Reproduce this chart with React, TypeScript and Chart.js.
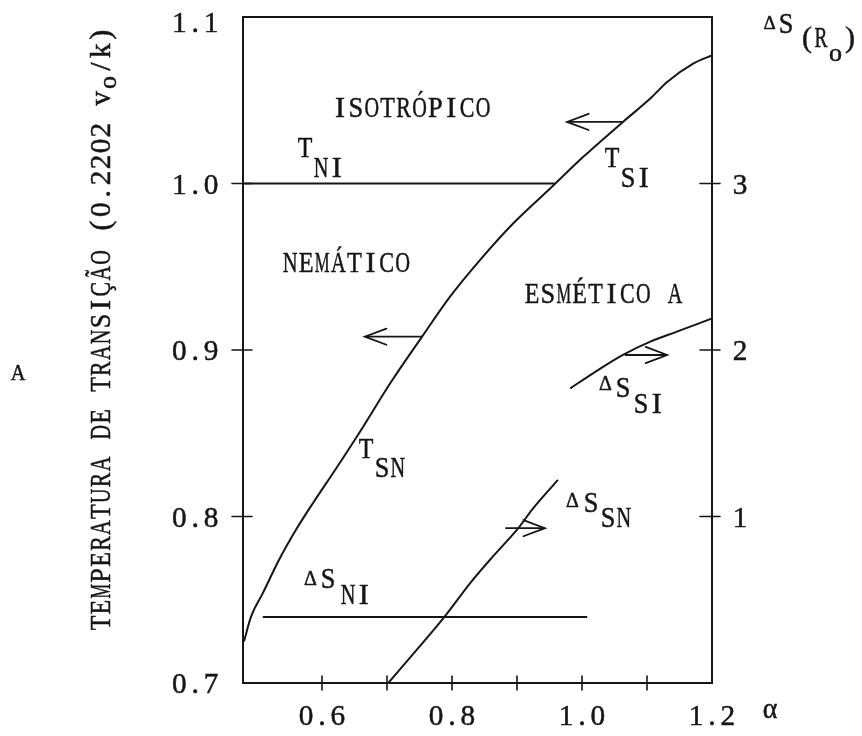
import React, { useEffect, useRef } from "react";
import { Chart, registerables } from "chart.js";

Chart.register(...registerables);

// ---------- data (α on x, reduced temperature T on left axis, ΔS on right axis) ----------
const X_MIN = 0.4785;
const X_MAX = 1.2;
const Y_MIN = 0.7;
const Y_MAX = 1.1;
const Y2_MIN = 0;
const Y2_MAX = 4;

// T_SN (lower part) continuing as T_SI (upper part)
const ALPHA_T_SN_SI = [0.48, 0.491, 0.509, 0.534, 0.56, 0.586, 0.622, 0.657, 0.705, 0.754, 0.797, 0.843, 0.894, 0.951, 1.002, 1.063, 1.105, 1.131, 1.171, 1.2];
const T_SN_SI = [0.725, 0.74, 0.754, 0.774, 0.792, 0.808, 0.829, 0.85, 0.88, 0.908, 0.932, 0.954, 0.976, 0.997, 1.016, 1.037, 1.051, 1.061, 1.072, 1.077];

// T_NI horizontal line
const ALPHA_T_NI = [0.4785, 0.958];
const T_NI = [1.0, 1.0];

// ΔS_SI (right axis)
const ALPHA_DS_SI = [0.982, 1.017, 1.063, 1.105, 1.146, 1.2];
const DS_SI = [1.77, 1.86, 1.97, 2.05, 2.11, 2.19];

// ΔS_SN (right axis)
const ALPHA_DS_SN = [0.702, 0.746, 0.789, 0.828, 0.863, 0.902, 0.923, 0.963];
const DS_SN = [0.0, 0.2, 0.4, 0.6, 0.76, 0.93, 1.04, 1.22];

// ΔS_NI (right axis)
const ALPHA_DS_NI = [0.509, 1.008];
const DS_NI = [0.396, 0.396];

// arrows telling which axis a curve belongs to (tail -> tip)
const ARROW_TSN_ALPHA = [0.754, 0.666];
const ARROW_TSN_T = [0.908, 0.908];
const ARROW_TSI_ALPHA = [1.063, 0.977];
const ARROW_TSI_T = [1.037, 1.037];
const ARROW_DSSI_ALPHA = [1.066, 1.131];
const ARROW_DSSI_DS = [1.97, 1.97];
const ARROW_DSSN_ALPHA = [0.882, 0.943];
const ARROW_DSSN_DS = [0.93, 0.93];

// ticks
const X_TICK_VALUES = [0.6, 0.7, 0.8, 0.9, 1.0, 1.1];
const X_LABEL_VALUES = [0.6, 0.8, 1.0, 1.2];
const X_LABELS = ["0.6", "0.8", "1.0", "1.2"];
const Y_TICK_VALUES = [0.8, 0.9, 1.0];
const Y_LABEL_VALUES = [0.7, 0.8, 0.9, 1.0, 1.1];
const Y_LABELS = ["0.7", "0.8", "0.9", "1.0", "1.1"];
const Y2_TICK_VALUES = [1, 2, 3];
const Y2_LABELS = ["1", "2", "3"];

const INK = "#161616";
const FONT = '"Liberation Serif", "DejaVu Serif", serif';
const ADV = 15.9;
const SIZE = 30;

function pts(xs: number[], ys: number[]) {
  return xs.map((x, i) => ({ x, y: ys[i] }));
}

// typewriter-like text: every character sits centred in a fixed cell
function typeText(ctx: CanvasRenderingContext2D, s: string, x: number, y: number, size = SIZE, adv = ADV) {
  ctx.font = `${size}px ${FONT}`;
  ctx.textAlign = "center";
  ctx.textBaseline = "alphabetic";
  ctx.lineWidth = 0.5;
  for (const ch of s) {
    if (ch !== " ") {
      const w = ctx.measureText(ch).width;
      const sx = Math.min(1, (adv * 0.92) / w);
      ctx.save();
      ctx.translate(x + adv / 2, y);
      ctx.scale(sx, 1);
      ctx.fillText(ch, 0, 0);
      ctx.strokeText(ch, 0, 0);
      ctx.restore();
    }
    x += adv;
  }
  return x;
}

const decor = {
  id: "decor",
  afterDatasetsDraw(chart: any) {
    const { ctx, chartArea: a, scales } = chart;
    const sx = scales.x, sy = scales.y, sy2 = scales.y2;
    ctx.save();
    ctx.strokeStyle = INK;
    ctx.fillStyle = INK;
    ctx.lineWidth = 2;
    ctx.lineCap = "round";
    ctx.strokeRect(a.left, a.top, a.right - a.left, a.bottom - a.top);

    // tick marks crossing the frame
    ctx.lineWidth = 1.6;
    ctx.beginPath();
    X_TICK_VALUES.forEach((v) => {
      const p = sx.getPixelForValue(v);
      ctx.moveTo(p, a.bottom - 7);
      ctx.lineTo(p, a.bottom + 7);
    });
    Y_TICK_VALUES.forEach((v) => {
      const p = sy.getPixelForValue(v);
      ctx.moveTo(a.left - 11, p);
      ctx.lineTo(a.left + 9, p);
    });
    Y2_TICK_VALUES.forEach((v) => {
      const p = sy2.getPixelForValue(v);
      ctx.moveTo(a.right - 12, p);
      ctx.lineTo(a.right + 8, p);
    });
    ctx.stroke();

    // arrowheads
    ctx.lineWidth = 1.8;
    chart.data.datasets.forEach((ds: any, i: number) => {
      if (!ds.arrow) return;
      const d = chart.getDatasetMeta(i).data;
      const p0 = d[d.length - 2], p1 = d[d.length - 1];
      const ang = Math.atan2(p1.y - p0.y, p1.x - p0.x);
      const L = 23, h = 0.36;
      ctx.beginPath();
      ctx.moveTo(p1.x - L * Math.cos(ang - h), p1.y - L * Math.sin(ang - h));
      ctx.lineTo(p1.x, p1.y);
      ctx.lineTo(p1.x - L * Math.cos(ang + h), p1.y - L * Math.sin(ang + h));
      ctx.stroke();
    });

    // tick labels
    X_LABEL_VALUES.forEach((v, i) => {
      const p = sx.getPixelForValue(v);
      const s = X_LABELS[i];
      typeText(ctx, s, p - (s.length * ADV) / 2, 725);
    });
    Y_LABEL_VALUES.forEach((v, i) => {
      const p = sy.getPixelForValue(v);
      const s = Y_LABELS[i];
      typeText(ctx, s, a.left - 24 - s.length * ADV, Math.max(p + 10, 32));
    });
    Y2_TICK_VALUES.forEach((v, i) => {
      const p = sy2.getPixelForValue(v);
      typeText(ctx, Y2_LABELS[i], a.right + 20, p + 10);
    });

    // region names
    typeText(ctx, "ISOTRÓPICO", 332, 117);
    typeText(ctx, "NEMÁTICO", 282, 272, SIZE, 16.1);
    typeText(ctx, "ESMÉTICO A", 524, 303);

    // curve labels
    typeText(ctx, "T", 297, 157);
    typeText(ctx, "NI", 313, 177);
    typeText(ctx, "T", 604, 167);
    typeText(ctx, "SI", 620, 187);
    typeText(ctx, "T", 358, 458);
    typeText(ctx, "SN", 374, 477);

    typeText(ctx, "Δ", 303, 585, 20, 15);
    typeText(ctx, "S", 320, 588);
    typeText(ctx, "NI", 340, 604);
    typeText(ctx, "Δ", 598, 390, 20, 15);
    typeText(ctx, "S", 615, 397);
    typeText(ctx, "SI", 633, 413);
    typeText(ctx, "Δ", 565, 507, 20, 15);
    typeText(ctx, "S", 583, 512);
    typeText(ctx, "SN", 600, 527);

    // right axis title ΔS(Ro)
    typeText(ctx, "Δ", 762, 29, 19, 15);
    typeText(ctx, "S", 778, 33);
    typeText(ctx, "(R", 800, 47, SIZE, 14);
    typeText(ctx, "o", 827, 61, 26, 17);
    typeText(ctx, ")", 844, 47, SIZE, 12);

    // x axis symbol and panel letter
    typeText(ctx, "α", 762, 718);
    typeText(ctx, "A", 10, 380, 23, 16);

    // y axis title (rotated)
    ctx.save();
    ctx.translate(110, 631);
    ctx.rotate(-Math.PI / 2);
    let cx = typeText(ctx, "TEMPERATURA DE TRANSIÇÃO (0.2202 v", 0, 0);
    cx = typeText(ctx, "o", cx, 6, 26);
    typeText(ctx, "/k)", cx, 0);
    ctx.restore();

    ctx.restore();
  },
};

function lineDs(data: any[], axis: string, extra: any = {}) {
  return {
    data,
    yAxisID: axis,
    borderColor: INK,
    borderWidth: 2,
    pointRadius: 0,
    fill: false,
    cubicInterpolationMode: "monotone",
    ...extra,
  };
}

export default function App() {
  const ref = useRef<HTMLCanvasElement | null>(null);
  useEffect(() => {
    if (!ref.current) return;
    const chart = new Chart(ref.current, {
      type: "line",
      data: {
        datasets: [
          lineDs(pts(ALPHA_T_SN_SI, T_SN_SI), "y"),
          lineDs(pts(ALPHA_T_NI, T_NI), "y"),
          lineDs(pts(ALPHA_DS_SI, DS_SI), "y2"),
          lineDs(pts(ALPHA_DS_SN, DS_SN), "y2"),
          lineDs(pts(ALPHA_DS_NI, DS_NI), "y2"),
          lineDs(pts(ARROW_TSN_ALPHA, ARROW_TSN_T), "y", { arrow: true, borderWidth: 1.8 }),
          lineDs(pts(ARROW_TSI_ALPHA, ARROW_TSI_T), "y", { arrow: true, borderWidth: 1.8 }),
          lineDs(pts(ARROW_DSSI_ALPHA, ARROW_DSSI_DS), "y2", { arrow: true, borderWidth: 1.8 }),
          lineDs(pts(ARROW_DSSN_ALPHA, ARROW_DSSN_DS), "y2", { arrow: true, borderWidth: 1.8 }),
        ] as any,
      },
      options: {
        responsive: false,
        animation: false,
        events: [],
        layout: { padding: { left: 243, top: 17, right: 150, bottom: 53 } },
        plugins: { legend: { display: false }, tooltip: { enabled: false } },
        scales: {
          x: { type: "linear", min: X_MIN, max: X_MAX, display: false },
          y: { type: "linear", min: Y_MIN, max: Y_MAX, display: false },
          y2: { type: "linear", min: Y2_MIN, max: Y2_MAX, display: false, position: "right" },
        },
      } as any,
      plugins: [decor],
    });
    return () => chart.destroy();
  }, []);
  return (
    <div style={{ position: "fixed", left: 0, top: 0, width: 862, height: 736, background: "#fff" }}>
      <canvas ref={ref} width={862} height={736} style={{ display: "block" }} />
    </div>
  );
}
